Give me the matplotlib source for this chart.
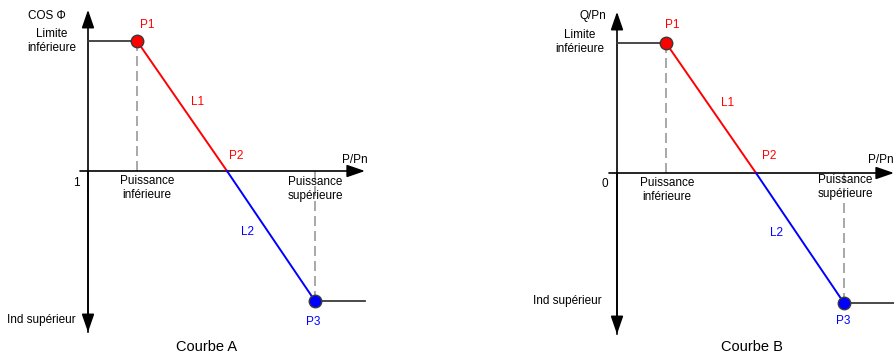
import matplotlib
matplotlib.use("Agg")
import matplotlib.pyplot as plt

plt.rcParams['font.family'] = ['Liberation Sans', 'DejaVu Sans']

# P/Pn positions of the characteristic points (P1 / P2 / P3) and end of axis
p_points = [0.98, 2.78, 4.54]
p_end = 5.54
# ordinate of P1, P2, P3 (upper limit, zero crossing, lower limit)
y_points = [1.0, 0.0, -1.0]
y_axis_span = 1.24

titles = ['Courbe A', 'Courbe B']
y_labels = ['COS \u03a6', 'Q/Pn']
origin_labels = ['1', '0']
low_label = 'Limite\ninf\u00e9rieure'
high_label = 'Ind sup\u00e9rieur'
p_low_label = 'Puissance\ninf\u00e9rieure'
p_high_label = 'Puissance\nsup\u00e9rieure'

RED = '#ff0000'
BLUE = '#0000ff'
GRAY = '#999999'
DARK = '#3a3a3a'

fig = plt.figure(figsize=(8.95, 3.57), dpi=100)

# axes placement: origin pixel (x from left, y from top) for each panel
origins = [(88, 171), (617, 173)]
halves = [(0, 447), (447, 895)]
px_x, px_y = 50.0, 130.0  # pixels per data unit

# text offsets (pixels) that differ between the two panels
offs = [
    dict(ylab=(-22, 155), one=(-12, -12), ind=(-12, -149), pp=(-10, 11),
         p1=(10, 16), l1=(16, 4), p2=(9, 15), l2=(-23, 4), p3=(-2, -21),
         pinf=(10, -17), psup=(0, -18), title=(119, -176), lim=(-36, 130)),
    dict(ylab=(-11, 157), one=(-12, -11), ind=(-15, -128), pp=(-13, 13),
         p1=(6, 18), l1=(17, 5), p2=(13, 17), l2=(-23, 5), p3=(-1, -18),
         pinf=(1, -17), psup=(1, -14), title=(135, -174), lim=(-37, 131)),
]

H = 357.0
for i in range(2):
    ox, oy = origins[i]
    left, right = halves[i]
    ax = fig.add_axes([left / 895.0, 0, (right - left) / 895.0, 1])
    ax.set_xlim(-(ox - left) / px_x, (right - ox) / px_x)
    ax.set_ylim(-(H - oy) / px_y, oy / px_y)
    ax.axis('off')
    o = offs[i]

    arrow = dict(arrowstyle='-|>,head_length=1.1,head_width=0.38', color='black',
                 lw=1.2, shrinkA=0, shrinkB=0, mutation_scale=10)
    # axes
    ax.annotate('', xy=(0, y_axis_span), xytext=(0, -y_axis_span), arrowprops=arrow)
    ax.annotate('', xy=(0, -y_axis_span), xytext=(0, 0), arrowprops=arrow)
    ax.annotate('', xy=(p_end, 0), xytext=(-0.16, 0), arrowprops=arrow)

    # flat segments
    ax.plot([0, p_points[0]], [y_points[0]] * 2, color=DARK, lw=1.3, zorder=3)
    ax.plot([p_points[2], p_end], [y_points[2]] * 2, color=DARK, lw=1.3, zorder=3)
    # dashed guides
    ax.plot([p_points[0]] * 2, [0, y_points[0]], color=GRAY, lw=1.2,
            dashes=(6, 3), zorder=2)
    ax.plot([p_points[2]] * 2, [0, y_points[2]], color=GRAY, lw=1.2,
            dashes=(6, 3), zorder=2)
    # sloped lines
    ax.plot(p_points[:2], y_points[:2], color=RED, lw=1.4, zorder=4)
    ax.plot(p_points[1:], y_points[1:], color=BLUE, lw=1.4, zorder=4)
    ax.plot(p_points[0], y_points[0], 'o', ms=9, mfc=RED, mec=DARK, mew=1, zorder=5)
    ax.plot(p_points[2], y_points[2], 'o', ms=9, mfc=BLUE, mec=DARK, mew=1, zorder=5)

    fs = 8.5

    def lab(txt, xy, off, color='black', ha='center', size=fs):
        ax.annotate(txt, xy=xy, xytext=off, textcoords='offset pixels',
                    ha=ha, va='center', color=color, fontsize=size,
                    linespacing=1.25, annotation_clip=False)

    lab(y_labels[i], (0, 0), o['ylab'], ha='right')
    lab(low_label, (0, 0), o['lim'])
    lab(origin_labels[i], (0, 0), o['one'])
    lab(high_label, (0, 0), o['ind'], ha='right')
    lab('P/Pn', (p_end, 0), o['pp'])
    lab('P1', (p_points[0], y_points[0]), o['p1'], RED)
    mid1 = ((p_points[0] + p_points[1]) / 2, (y_points[0] + y_points[1]) / 2)
    mid2 = ((p_points[1] + p_points[2]) / 2, (y_points[1] + y_points[2]) / 2)
    lab('L1', mid1, o['l1'], RED)
    lab('P2', (p_points[1], y_points[1]), o['p2'], RED)
    lab('L2', mid2, o['l2'], BLUE)
    lab('P3', (p_points[2], y_points[2]), o['p3'], BLUE)
    lab(p_low_label, (p_points[0], 0), o['pinf'])
    lab(p_high_label, (p_points[2], 0), o['psup'])
    lab(titles[i], (0, 0), o['title'], size=10.5)

fig.savefig('out.png', dpi=100)
